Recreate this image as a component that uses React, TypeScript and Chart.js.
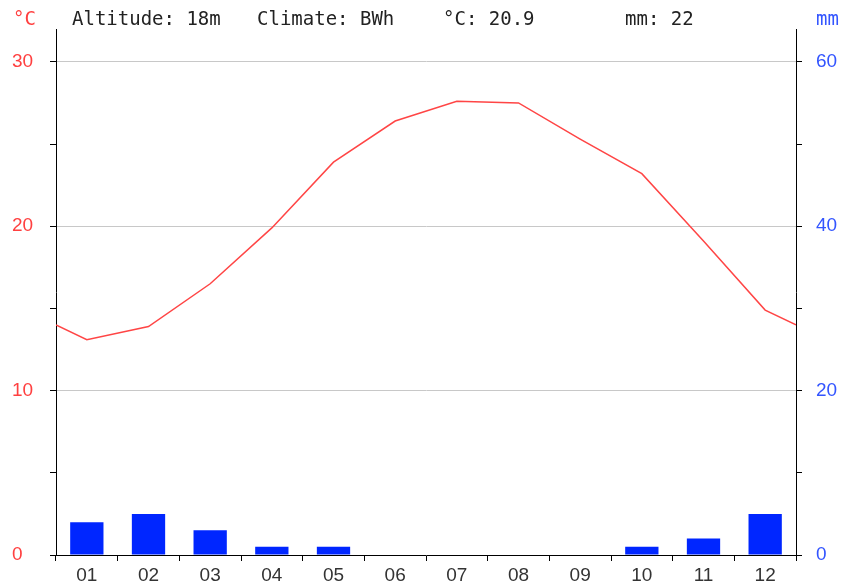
import React, { useEffect, useRef } from "react";
import { Chart, registerables } from "chart.js";

Chart.register(...registerables);

const months = ["01", "02", "03", "04", "05", "06", "07", "08", "09", "10", "11", "12"];
const temps = [13.1, 13.9, 16.5, 19.9, 23.9, 26.4, 27.6, 27.5, 25.3, 23.2, 19.1, 14.9];
const edgeTemp = 14.0;
const precip = [4, 5, 3, 1, 1, 0, 0, 0, 0, 1, 2, 5];
const headerItems = [
  { text: "°C", x: 13, color: "#ff4040" },
  { text: "Altitude: 18m", x: 72, color: "#222" },
  { text: "Climate: BWh", x: 257, color: "#222" },
  { text: "°C: 20.9", x: 443, color: "#222" },
  { text: "mm: 22", x: 625, color: "#222" },
  { text: "mm", x: 816, color: "#3355ff" },
];

const tickFont = { family: "'Liberation Sans', Arial, sans-serif", size: 19 };

const headerPlugin = {
  id: "header",
  afterDraw(chart: any) {
    const ctx = chart.ctx;
    ctx.save();
    ctx.textBaseline = "middle";
    ctx.textAlign = "left";
    for (const h of headerItems) {
      ctx.font = "19px 'DejaVu Sans Mono'";
      ctx.fillStyle = h.color;
      ctx.fillText(h.text, h.x, 20);
    }
    ctx.restore();
  },
};

export default function App() {
  const ref = useRef<HTMLCanvasElement>(null);
  useEffect(() => {
    const linePts = [{ x: 0, y: edgeTemp }]
      .concat(temps.map((t, i) => ({ x: i + 0.5, y: t })))
      .concat([{ x: 12, y: edgeTemp }]);
    const chart = new Chart(ref.current!, {
      type: "bar",
      data: {
        labels: months,
        datasets: [
          {
            type: "bar",
            data: precip,
            xAxisID: "x",
            yAxisID: "y2",
            backgroundColor: "#0026ff",
            categoryPercentage: 0.54,
            barPercentage: 1,
            grouped: false,
          } as any,
          {
            type: "line",
            data: linePts as any,
            xAxisID: "xl",
            yAxisID: "y",
            borderColor: "#ff4545",
            borderWidth: 1.5,
            pointRadius: 0,
            tension: 0,
          } as any,
        ],
      },
      options: {
        responsive: false,
        animation: false,
        layout: { padding: { left: 12, top: 29, right: 0, bottom: 0 } },
        plugins: { legend: { display: false }, tooltip: { enabled: false } },
        scales: {
          x: {
            type: "category",
            position: "bottom",
            offset: true,
            grid: { offset: true, drawOnChartArea: false, tickLength: 6, tickColor: "#000", color: "#000" },
            border: { color: "#000", width: 1 },
            ticks: { color: "#333", font: tickFont, padding: 3, maxRotation: 0 },
            afterFit: (s: any) => { s.height = 29; },
          },
          xl: {
            type: "linear",
            display: false,
            offset: false,
            min: 0,
            max: 12,
          },
          y: {
            type: "linear",
            position: "left",
            min: 0,
            max: 32,
            ticks: {
              stepSize: 5,
              color: "#ff4040",
              font: tickFont,
              crossAlign: "far",
              callback: (v: any) => (v % 10 === 0 ? String(v) : ""),
            },
            afterBuildTicks: (s: any) => { s.ticks = s.ticks.filter((t: any) => t.value <= 30); },
            grid: {
              color: (c: any) => (c.tick && c.tick.value > 0 && c.tick.value % 10 === 0 ? "#c8c8c8" : "rgba(0,0,0,0)"),
              tickColor: "#000",
              tickLength: 6,
              lineWidth: 1,
            },
            border: { color: "#000", width: 1 },
            afterFit: (s: any) => { s.width = 44; },
          },
          y2: {
            type: "linear",
            position: "right",
            min: 0,
            max: 64,
            ticks: {
              stepSize: 10,
              color: "#3355ff",
              font: tickFont,
              padding: 14,
              callback: (v: any) => (v % 20 === 0 ? String(v) : ""),
            },
            afterBuildTicks: (s: any) => { s.ticks = s.ticks.filter((t: any) => t.value <= 60); },
            grid: { drawOnChartArea: false, tickColor: "#000", tickLength: 6 },
            border: { color: "#000", width: 1 },
            afterFit: (s: any) => { s.width = 45; },
          },
        },
      } as any,
      plugins: [headerPlugin],
    });
    return () => chart.destroy();
  }, []);
  return (
    <div style={{ position: "fixed", left: 0, top: 0, width: 841, height: 584, background: "#fff" }}>
      <canvas ref={ref} width={841} height={584} style={{ display: "block" }} />
    </div>
  );
}
